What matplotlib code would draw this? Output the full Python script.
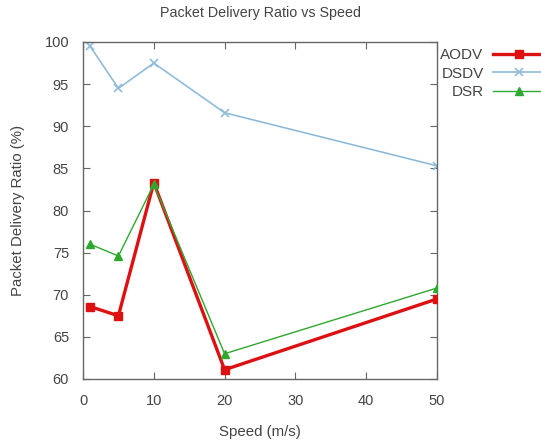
import matplotlib
matplotlib.use("Agg")
import matplotlib.pyplot as plt

plt.rcParams['font.family'] = ['Liberation Sans', 'DejaVu Sans']

speed = [1, 5, 10, 20, 50]
aodv = [68.6, 67.5, 83.3, 61.1, 69.5]
dsdv = [99.5, 94.5, 97.5, 91.6, 85.3]
dsr = [76.0, 74.6, 83.1, 63.0, 70.8]

x_ticks = [0, 10, 20, 30, 40, 50]
y_ticks = [60, 65, 70, 75, 80, 85, 90, 95, 100]

text_color = '#444444'
spine_color = '#666666'

fig = plt.figure(figsize=(5.41, 4.41), dpi=100)
ax = fig.add_axes([83 / 541, 1 - 379 / 441, (437 - 83) / 541, (379 - 42) / 441])

ax.plot(speed, aodv, color='#dd1111', lw=2.4, marker='s', ms=6, label='AODV', zorder=3)
ax.plot(speed, dsdv, color='#8fbcd9', lw=1.2, marker='x', ms=6, mew=1.2, label='DSDV', zorder=2)
ax.plot(speed, dsr, color='#2ea82e', lw=1.0, marker='^', ms=6, label='DSR', zorder=4)

ax.set_xlim(0, 50)
ax.set_ylim(60, 100)
ax.set_xticks(x_ticks)
ax.set_yticks(y_ticks)
ax.tick_params(direction='in', top=True, right=True, length=5, width=0.8,
               colors=spine_color, labelcolor=text_color, labelsize=10.5)
ax.tick_params(axis='x', pad=11)
ax.tick_params(axis='y', pad=10)
for s in ax.spines.values():
    s.set_color(spine_color)
    s.set_linewidth(1.0)

ax.set_title('Packet Delivery Ratio vs Speed', fontsize=10.3, color=text_color, pad=18)
ax.set_xlabel('Speed (m/s)', fontsize=10.8, color=text_color, labelpad=12)
ax.set_ylabel('Packet Delivery Ratio (%)', fontsize=10.8, color=text_color, labelpad=14)

leg = ax.legend(loc='upper right', bbox_to_anchor=(1.018, 1 - 42 / 441),
                bbox_transform=fig.transFigure, frameon=False, markerfirst=False,
                fontsize=11, handlelength=3.4, handletextpad=0.6, labelspacing=0.3,
                borderaxespad=0)
for t in leg.get_texts():
    t.set_color(text_color)

fig.savefig('out.png', dpi=100)
